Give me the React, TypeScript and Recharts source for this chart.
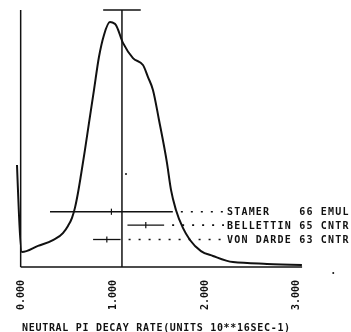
import React from "react";
import { LineChart, Line, XAxis, YAxis, ReferenceLine, ReferenceDot } from "recharts";

// Distribution curve (rate value, relative height)
const curveX = [-0.04, 0.014, 0.189, 0.352, 0.461, 0.516, 0.56, 0.592, 0.625, 0.658, 0.701, 0.745, 0.8, 0.854, 0.909, 0.974, 1.029, 1.116, 1.225, 1.334, 1.389, 1.443, 1.509, 1.596, 1.64, 1.694, 1.77, 1.847, 1.967, 2.098, 2.316, 2.687, 3.068];
const curveY = [39.7, 5.8, 8.2, 10.5, 13.2, 16.0, 19.1, 23.0, 28.8, 35.8, 45.5, 56.0, 68.9, 81.7, 90.3, 95.3, 94.6, 87.2, 81.3, 78.6, 73.9, 68.9, 57.2, 40.5, 30.0, 22.2, 15.2, 10.5, 6.2, 4.3, 1.9, 1.2, 0.8];

// Average value with error
const meanValue = 1.105;
const meanError = 0.205;

// Experiments
const expNames = ["STAMER", "BELLETTIN", "VON DARDE"];
const expYears = ["66", "65", "63"];
const expMethods = ["EMUL", "CNTR", "CNTR"];
const expValues = [0.99, 1.365, 0.94];
const expErrLow = [0.67, 0.2, 0.15];
const expErrHigh = [0.67, 0.2, 0.15];
const expRows = [21.5, 16.3, 10.7];
const leaderEnd = 2.218;

const xTicks = [0, 1, 2, 3];
const xTickLabels = ["0.000", "1.000", "2.000", "3.000"];
const xTitle = "NEUTRAL PI DECAY RATE(UNITS 10**16SEC-1)";

// stray marks
const strayDots = [
  { x: 1.149, y: 36.2 },
  { x: 3.41, y: -2.3 },
];

const data = curveX.map((x, i) => ({ x, y: curveY[i] }));

const FONT = "'DejaVu Sans Mono', monospace";
const INK = "#111";

const Tick = (props: any) => {
  const { x, y, payload } = props;
  const idx = xTicks.indexOf(payload.value);
  const label = idx >= 0 ? xTickLabels[idx] : String(payload.value);
  const ay = y + 5;
  return (
    <text
      x={x}
      y={ay}
      dy="0.36em"
      transform={`rotate(-90, ${x}, ${ay})`}
      textAnchor="end"
      fontFamily={FONT}
      fontSize={10}
      fontWeight="bold"
      fill={INK}
    >
      {label}
    </text>
  );
};

export default function App() {
  return (
    <div style={{ position: "fixed", top: 8, left: 8, width: 343, height: 324 }}>
      <LineChart
        width={343}
        height={324}
        data={data}
        margin={{ top: 2, right: 9.5, bottom: 0, left: 3.5 }}
      >
        <XAxis
          dataKey="x"
          type="number"
          domain={[-0.1, 3.5]}
          allowDataOverflow
          ticks={xTicks}
          interval={0}
          axisLine={false}
          tickLine={false}
          height={65}
          tick={<Tick />}
          label={{
            content: () => (
              <text
                x={14}
                y={323}
                fontFamily={FONT}
                fontSize={10}
                fontWeight="bold"
                letterSpacing={0.7}
                fill={INK}
              >
                {xTitle}
              </text>
            ),
          }}
        />
        <YAxis type="number" domain={[0, 100]} allowDataOverflow hide />
        {/* axes frame */}
        <ReferenceLine
          segment={[{ x: 0, y: 0 }, { x: 3.07, y: 0 }]}
          stroke={INK}
          strokeWidth={1.5}
          ifOverflow="visible"
        />
        <ReferenceLine
          segment={[{ x: 0, y: 0 }, { x: 0, y: 100 }]}
          stroke={INK}
          strokeWidth={1.5}
          ifOverflow="visible"
        />
        {/* mean marker */}
        <ReferenceLine
          segment={[{ x: meanValue, y: 0 }, { x: meanValue, y: 100 }]}
          stroke={INK}
          strokeWidth={1.5}
          ifOverflow="visible"
        />
        <ReferenceLine
          segment={[{ x: meanValue - meanError, y: 100 }, { x: meanValue + meanError, y: 100 }]}
          stroke={INK}
          strokeWidth={1.5}
          ifOverflow="visible"
        />
        {/* experiments */}
        {expNames.map((name, i) => {
          const lo = expValues[i] - expErrLow[i];
          const hi = expValues[i] + expErrHigh[i];
          const row = expRows[i];
          const text = `${name.padEnd(10, " ")}${expYears[i]} ${expMethods[i]}`;
          return (
            <React.Fragment key={name}>
              <ReferenceLine
                segment={[{ x: lo, y: row }, { x: hi, y: row }]}
                stroke={INK}
                strokeWidth={1.3}
                ifOverflow="visible"
              />
              <ReferenceLine
                segment={[{ x: expValues[i], y: row - 1.2 }, { x: expValues[i], y: row + 1.2 }]}
                stroke={INK}
                strokeWidth={1.2}
                ifOverflow="visible"
              />
              <ReferenceLine
                segment={[{ x: hi, y: row }, { x: leaderEnd, y: row }]}
                stroke={INK}
                strokeWidth={1.6}
                strokeDasharray="2 8"
                strokeDashoffset={2}
                ifOverflow="visible"
                label={{
                  content: (p: any) => {
                    const vb = p.viewBox || {};
                    const tx = (vb.x ?? 0) + (vb.width ?? 0) + 3;
                    const ty = (vb.y ?? 0) + (vb.height ?? 0) / 2;
                    return (
                      <text
                        x={tx}
                        y={ty}
                        dy="0.36em"
                        fontFamily={FONT}
                        fontSize={10}
                        fontWeight="bold"
                        letterSpacing={1.2}
                        fill={INK}
                        style={{ whiteSpace: "pre" }}
                      >
                        {text}
                      </text>
                    );
                  },
                }}
              />
            </React.Fragment>
          );
        })}
        {strayDots.map((d, i) => (
          <ReferenceDot
            key={i}
            x={d.x}
            y={d.y}
            r={1}
            fill={INK}
            stroke="none"
            ifOverflow="visible"
          />
        ))}
        <Line
          type="monotone"
          dataKey="y"
          stroke={INK}
          strokeWidth={2}
          dot={false}
          isAnimationActive={false}
        />
      </LineChart>
    </div>
  );
}
